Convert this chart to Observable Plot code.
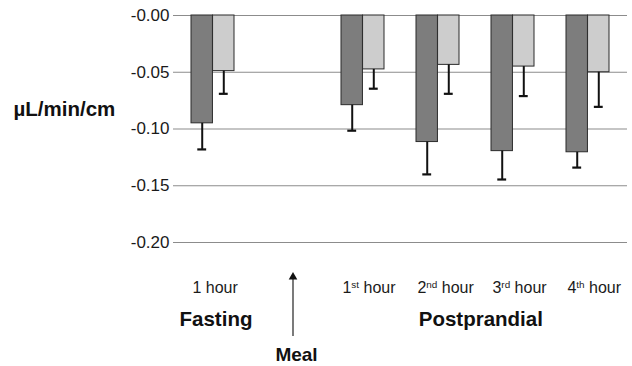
<!DOCTYPE html>
<html>
<head>
<meta charset="utf-8">
<script src="https://cdn.jsdelivr.net/npm/d3@7"></script>
<script src="https://cdn.jsdelivr.net/npm/@observablehq/plot@0.6"></script>
<style>
  html, body { margin: 0; padding: 0; background: #fff; }
  #chart svg { font-family: "Liberation Sans", Arial, Helvetica, sans-serif; }
</style>
</head>
<body>
<div id="chart"></div>
<script>
// Time slots along the x axis; "Meal" is the empty slot where the meal arrow sits.
const periods = ["1 hour", "Meal", "1st hour", "2nd hour", "3rd hour", "4th hour"];

// Dark series: mean and mean − SD (µL/min/cm)
const darkMean = [-0.095, null, -0.079, -0.1115, -0.1195, -0.1205];
const darkErr  = [-0.118, null, -0.1015, -0.140, -0.1445, -0.134];

// Light series: mean and mean − SD (µL/min/cm)
const lightMean = [-0.049, null, -0.0475, -0.0435, -0.045, -0.050];
const lightErr  = [-0.069, null, -0.0645, -0.069, -0.071, -0.0805];

const yTicks = [0, -0.05, -0.10, -0.15, -0.20];
const yLabel = "µL/min/cm";
const phaseLabels = ["Fasting", "Postprandial"];
const mealLabel = "Meal";

// Geometry of the plot frame
const W = 632, H = 366;
const M = {top: 15, right: 5, bottom: 124, left: 173};
const padInner = 0.43, padOuter = 0.215;
const step = (W - M.left - M.right) / (periods.length - padInner + 2 * padOuter);
const bw = step * (1 - padInner);      // width of one pair of bars
const half = bw / 2;
const capW = 9;

const rows = (means, errs) => periods
  .map((p, i) => ({period: p, mean: means[i], err: errs[i]}))
  .filter(d => d.mean != null);
const dark = rows(darkMean, darkErr);
const light = rows(lightMean, lightErr);

const hourLabels = periods.filter(p => p !== "Meal").map(p => ({period: p}));

const fmt = d => (d <= 0 ? "-" : "") + Math.abs(d).toFixed(2);

const plot = Plot.plot({
  width: W,
  height: H,
  marginTop: M.top,
  marginRight: M.right,
  marginBottom: M.bottom,
  marginLeft: M.left,
  style: {fontSize: "17px", fontFamily: '"Liberation Sans", Arial, Helvetica, sans-serif', color: "#1a1a1a", background: "#fff"},
  x: {domain: periods, paddingInner: padInner, paddingOuter: padOuter, align: 0.5, axis: null},
  y: {domain: [-0.2, 0], ticks: yTicks, tickFormat: fmt, tickSize: 0, tickPadding: 4, label: null},
  marks: [
    // horizontal grid lines
    Plot.ruleY(yTicks, {stroke: "#8c8c8c", strokeWidth: 1.2}),

    // bars
    Plot.barY(dark, {x: "period", y1: 0, y2: "mean", insetRight: half, fill: "#7d7d7d", stroke: "#2b2b2b", strokeWidth: 1}),
    Plot.barY(light, {x: "period", y1: 0, y2: "mean", insetLeft: half, fill: "#cdcdcd", stroke: "#2b2b2b", strokeWidth: 1}),

    // one-sided error bars
    Plot.ruleX(dark, {x: "period", y1: "mean", y2: "err", dx: -bw / 4, stroke: "#111", strokeWidth: 2}),
    Plot.tickY(dark, {x: "period", y: "err", insetLeft: bw / 4 - capW / 2, insetRight: bw * 3 / 4 - capW / 2, stroke: "#111", strokeWidth: 2.2}),
    Plot.ruleX(light, {x: "period", y1: "mean", y2: "err", dx: bw / 4, stroke: "#111", strokeWidth: 2}),
    Plot.tickY(light, {x: "period", y: "err", insetLeft: bw * 3 / 4 - capW / 2, insetRight: bw / 4 - capW / 2, stroke: "#111", strokeWidth: 2.2}),

    // hour labels under each pair
    Plot.text(hourLabels, {x: "period", text: "period", frameAnchor: "bottom", textAnchor: "start", dx: -half + 1, dy: 45, lineAnchor: "middle", fontSize: 16, fill: "#1a1a1a"}),

    // phase labels
    Plot.text([{period: "1 hour", label: phaseLabels[0]}], {x: "period", text: "label", frameAnchor: "bottom", dy: 77, dx: 3, lineAnchor: "middle", fontSize: 20.5, fontWeight: "bold", fill: "#111"}),
    Plot.text([{period: "2nd hour", label: phaseLabels[1]}], {x: "period", text: "label", frameAnchor: "bottom", dy: 77, dx: step / 2 + 5, lineAnchor: "middle", fontSize: 20.5, fontWeight: "bold", fill: "#111"}),

    // meal arrow and label
    Plot.ruleX(["Meal"], {x: d => d, dx: 5, insetTop: 279 - M.top, insetBottom: (H - M.bottom) - 336, stroke: "#333", strokeWidth: 1.3}),
    Plot.dot(["Meal"], {x: d => d, frameAnchor: "bottom", dx: 5, dy: 34.6, symbol: "triangle", r: 3.2, fill: "#111", stroke: "none"}),
    Plot.text([{period: "Meal", label: mealLabel}], {x: "period", text: "label", frameAnchor: "bottom", dx: 8.5, dy: 112, lineAnchor: "middle", fontSize: 19, fontWeight: "bold", fill: "#111"}),

    // y unit label
    Plot.text([yLabel], {text: d => d, frameAnchor: "left", textAnchor: "start", dx: 13 - M.left, dy: -20, fontSize: 20.5, fontWeight: "bold", fill: "#111"})
  ]
});

// Render ordinal suffixes (st, nd, rd, th) as superscripts.
d3.select(plot).selectAll("text").each(function () {
  const t = this.textContent;
  const m = /^(\d)(st|nd|rd|th)( hour)$/.exec(t);
  if (!m) return;
  const el = d3.select(this);
  el.text(null);
  el.append("tspan").text(m[1]);
  el.append("tspan").attr("dy", "-0.45em").attr("font-size", "0.62em").text(m[2]);
  el.append("tspan").attr("dy", "0.28em").text(m[3]);
});

document.getElementById("chart").append(plot);
</script>
</body>
</html>
